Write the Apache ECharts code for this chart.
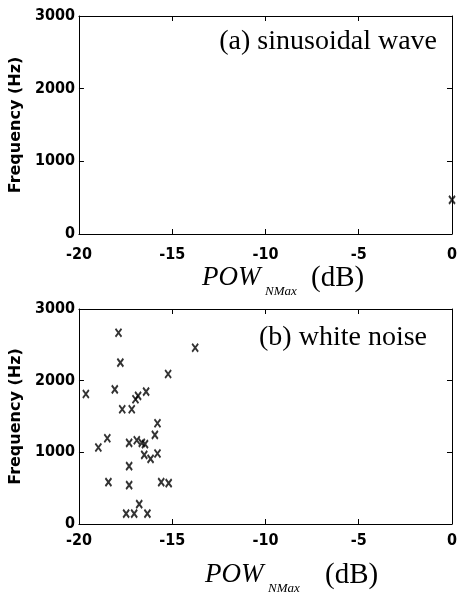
<!DOCTYPE html>
<html>
<head>
<meta charset="utf-8">
<script src="https://cdn.jsdelivr.net/npm/echarts@6/dist/echarts.min.js"></script>
<style>
  html, body { margin: 0; padding: 0; background: #fff; }
  #main { width: 460px; height: 592px; }
</style>
</head>
<body>
<div id="main"></div>
<script>
// (a) sinusoidal wave: one peak
var sinePow = [0];
var sineFreq = [470];

// (b) white noise peaks
var noisePow = [-19.63, -18.96, -18.48, -18.42, -18.08, -17.88, -17.78, -17.68, -17.47, -17.31,
    -17.31, -17.31, -17.17, -17.04, -16.97, -16.83, -16.90, -16.77, -16.63, -16.50,
    -16.46, -16.40, -16.33, -16.16, -15.93, -15.79, -15.79, -15.59, -15.22, -15.19, -13.77];
var noiseFreq = [1814, 1067, 1197, 585, 1879, 2668, 2251, 1601, 144, 1132,
    807, 543, 1601, 144, 1740, 1787, 1169, 278, 1132, 965,
    1114, 1847, 144, 909, 1244, 1406, 984, 585, 2093, 571, 2459];

var xTicks = [-20, -15, -10, -5, 0];
var yTicks = [0, 1000, 2000, 3000];

function pairs(xs, ys) {
    return xs.map(function (x, i) { return [x, ys[i]]; });
}

var tickFont = {
    fontFamily: 'DejaVu Sans Condensed, sans-serif',
    fontWeight: 'bold',
    fontSize: 16,
    color: '#000',
    formatter: function (v) { return String(v); }
};
var lineBlack = { show: true, onZero: false, lineStyle: { color: '#000', width: 1 } };
var tickIn = { show: true, inside: true, length: 5, lineStyle: { color: '#000' } };

function xAxes(grid, margin) {
    return [{
        type: 'value', gridIndex: grid, min: xTicks[0], max: xTicks[xTicks.length - 1], interval: 5,
        axisLine: lineBlack, axisTick: tickIn, splitLine: { show: false },
        axisLabel: Object.assign({ margin: margin }, tickFont)
    }, {
        type: 'value', gridIndex: grid, position: 'top', min: xTicks[0], max: xTicks[xTicks.length - 1], interval: 5,
        axisLine: lineBlack, axisTick: tickIn, splitLine: { show: false }, axisLabel: { show: false }
    }];
}
function yAxes(grid) {
    return [{
        type: 'value', gridIndex: grid, min: yTicks[0], max: yTicks[yTicks.length - 1], interval: 1000,
        axisLine: lineBlack, axisTick: tickIn, splitLine: { show: false },
        axisLabel: Object.assign({ margin: 4 }, tickFont),
        name: 'Frequency (Hz)', nameLocation: 'middle', nameGap: 35,
        nameTextStyle: { fontFamily: 'DejaVu Sans, sans-serif', fontWeight: 'bold', fontSize: 16, color: '#000' }
    }, {
        type: 'value', gridIndex: grid, position: 'right', min: yTicks[0], max: yTicks[yTicks.length - 1], interval: 1000,
        axisLine: lineBlack, axisTick: tickIn, splitLine: { show: false }, axisLabel: { show: false }
    }];
}

var xMark = 'path://M0,0L10,10M10,0L0,10';
var markStyle = { color: '#000', borderColor: '#000', borderWidth: 2 };

var serif = 'Liberation Serif, Times New Roman, serif';
function txt(x, y, s, size, italic, align) {
    return {
        type: 'text', x: x, y: y, silent: true,
        style: {
            text: s, fill: '#000', fontFamily: serif, fontSize: size,
            fontStyle: italic ? 'italic' : 'normal',
            align: align || 'left', verticalAlign: 'middle'
        }
    };
}

var chart = echarts.init(document.getElementById('main'));
chart.setOption({
    animation: false,
    backgroundColor: '#fff',
    grid: [
        { left: 58, top: 16, width: 395, height: 218 },
        { left: 59, top: 309, width: 396, height: 215 }
    ],
    xAxis: xAxes(0, 13).concat(xAxes(1, 9)),
    yAxis: yAxes(0).concat(yAxes(1)),
    series: [{
        type: 'scatter', xAxisIndex: 0, yAxisIndex: 0,
        symbol: xMark, symbolSize: [6, 8], itemStyle: markStyle,
        data: pairs(sinePow, sineFreq)
    }, {
        type: 'scatter', xAxisIndex: 2, yAxisIndex: 2,
        symbol: xMark, symbolSize: [6, 8], itemStyle: markStyle,
        data: pairs(noisePow, noiseFreq)
    }],
    graphic: [
        txt(437, 42, '(a) sinusoidal wave', 28, false, 'right'),
        txt(427, 338, '(b) white noise', 28, false, 'right'),
        txt(202, 278, 'POW', 27, true),
        txt(265, 292, 'NMax', 13, true),
        txt(311, 278, '(dB)', 29, false),
        txt(205, 575, 'POW', 27, true),
        txt(268, 589, 'NMax', 13, true),
        txt(325, 575, '(dB)', 29, false)
    ]
});
</script>
</body>
</html>
